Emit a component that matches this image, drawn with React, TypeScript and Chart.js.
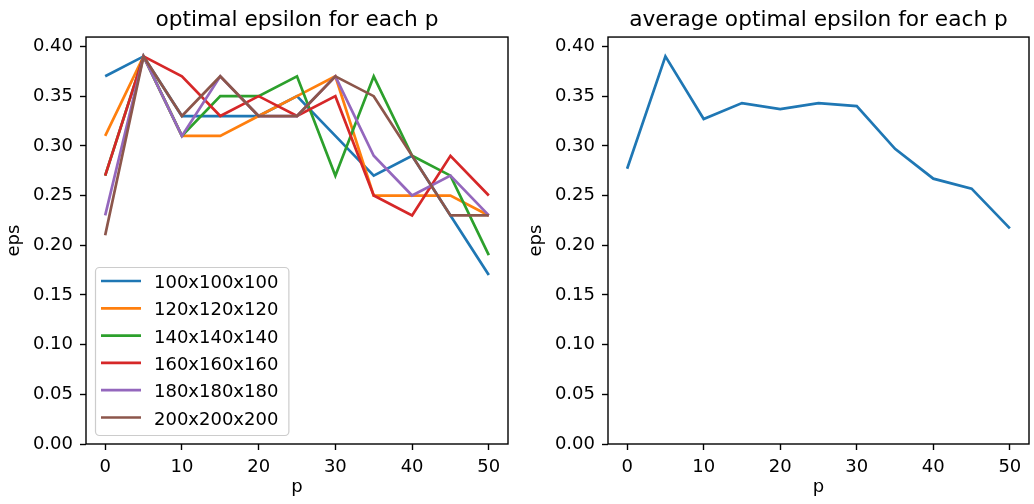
import React, { useEffect, useRef } from "react";
import { Chart, registerables } from "chart.js";

Chart.register(...registerables);

const pValues = [0, 5, 10, 15, 20, 25, 30, 35, 40, 45, 50];
const seriesLabels = ["100x100x100", "120x120x120", "140x140x140", "160x160x160", "180x180x180", "200x200x200"];
const eps100 = [0.37, 0.39, 0.33, 0.33, 0.33, 0.35, 0.31, 0.27, 0.29, 0.23, 0.17];
const eps120 = [0.31, 0.39, 0.31, 0.31, 0.33, 0.35, 0.37, 0.25, 0.25, 0.25, 0.23];
const eps140 = [0.27, 0.39, 0.31, 0.35, 0.35, 0.37, 0.27, 0.37, 0.29, 0.27, 0.19];
const eps160 = [0.27, 0.39, 0.37, 0.33, 0.35, 0.33, 0.35, 0.25, 0.23, 0.29, 0.25];
const eps180 = [0.23, 0.39, 0.31, 0.37, 0.33, 0.33, 0.37, 0.29, 0.25, 0.27, 0.23];
const eps200 = [0.21, 0.39, 0.33, 0.37, 0.33, 0.33, 0.37, 0.35, 0.29, 0.23, 0.23];
const avgEps = [0.277, 0.39, 0.327, 0.343, 0.337, 0.343, 0.34, 0.297, 0.267, 0.257, 0.217];
const yTicks = [0, 0.05, 0.1, 0.15, 0.2, 0.25, 0.3, 0.35, 0.4];
const xTicks = [0, 10, 20, 30, 40, 50];
const colors = ["#1f77b4", "#ff7f0e", "#2ca02c", "#d62728", "#9467bd", "#8c564b"];

const FONT = "'DejaVu Sans', sans-serif";
const allSeries = [eps100, eps120, eps140, eps160, eps180, eps200];

const framePlugin = {
  id: "frame",
  afterDatasetsDraw(chart: any) {
    const { ctx, chartArea: a } = chart;
    ctx.save();
    ctx.strokeStyle = "#000";
    ctx.lineWidth = 1.4;
    ctx.strokeRect(a.left, a.top, a.right - a.left, a.bottom - a.top);
    ctx.restore();
  },
};

const legendPlugin = {
  id: "mplLegend",
  afterDraw(chart: any) {
    const { ctx, chartArea: a } = chart;
    const ds = chart.data.datasets;
    ctx.save();
    ctx.font = `18px ${FONT}`;
    let maxW = 0;
    ds.forEach((d: any) => { maxW = Math.max(maxW, ctx.measureText(d.label).width); });
    const left = a.left + 9;
    const bottom = a.bottom - 9;
    const rowH = 27.3;
    const height = 14 + rowH * (ds.length - 1) + 17.5;
    const top = bottom - height;
    const textX = left + 59;
    const width = textX - left + maxW + 10;
    ctx.beginPath();
    (ctx as any).roundRect(left + 0.5, top + 0.5, width, height, 4);
    ctx.fillStyle = "rgba(255,255,255,0.8)";
    ctx.fill();
    ctx.strokeStyle = "#cccccc";
    ctx.lineWidth = 1.2;
    ctx.stroke();
    ds.forEach((d: any, i: number) => {
      const cy = top + 14 + i * rowH;
      ctx.beginPath();
      ctx.strokeStyle = d.borderColor;
      ctx.lineWidth = 2.7;
      ctx.moveTo(left + 6, cy);
      ctx.lineTo(left + 46, cy);
      ctx.stroke();
      ctx.fillStyle = "#000";
      ctx.textBaseline = "alphabetic";
      ctx.textAlign = "left";
      ctx.fillText(d.label, textX, cy + 7);
    });
    ctx.restore();
  },
};

function makeOptions(title: string, padRight: number) {
  return {
    responsive: false,
    animation: false as const,
    layout: { padding: { left: 0, right: padRight, top: 0, bottom: 0 } },
    plugins: {
      legend: { display: false },
      tooltip: { enabled: false },
      title: {
        display: true,
        text: title,
        color: "#000",
        fullSize: false,
        font: { family: FONT, size: 21.7, weight: "normal" as const, lineHeight: 1.2 },
        padding: { top: 7, bottom: 4 },
      },
    },
    scales: {
      x: {
        type: "linear" as const,
        min: -2.5,
        max: 52.5,
        afterBuildTicks: (s: any) => { s.ticks = xTicks.map((v) => ({ value: v })); },
        afterFit: (s: any) => { s.height = 60; },
        border: { display: false },
        grid: { drawOnChartArea: false, drawTicks: true, tickLength: 6, tickColor: "#000", tickWidth: 1.4 },
        ticks: { color: "#000", padding: 7, font: { family: FONT, size: 18 }, maxRotation: 0, callback: (v: any) => String(v) },
        title: { display: true, text: "p", color: "#000", font: { family: FONT, size: 18, lineHeight: 1.2 }, padding: { top: 0, bottom: 5.5 } },
      },
      y: {
        type: "linear" as const,
        min: 0,
        max: 0.4095,
        afterBuildTicks: (s: any) => { s.ticks = yTicks.map((v) => ({ value: v })); },
        afterFit: (s: any) => { s.width = 86; },
        border: { display: false },
        grid: { drawOnChartArea: false, drawTicks: true, tickLength: 6, tickColor: "#000", tickWidth: 1.4 },
        ticks: { color: "#000", padding: 7, font: { family: FONT, size: 18 }, callback: (v: any) => Number(v).toFixed(2) },
        title: { display: true, text: "eps", color: "#000", font: { family: FONT, size: 18, lineHeight: 1.2 }, padding: { top: 4, bottom: 0 } },
      },
    },
  };
}

export default function App() {
  const leftRef = useRef<HTMLCanvasElement>(null);
  const rightRef = useRef<HTMLCanvasElement>(null);

  useEffect(() => {
    const left = new Chart(leftRef.current!, {
      type: "line",
      data: {
        datasets: allSeries.map((s, i) => ({
          label: seriesLabels[i],
          data: pValues.map((p, j) => ({ x: p, y: s[j] })),
          borderColor: colors[i],
          backgroundColor: colors[i],
          borderWidth: 2.7,
          pointRadius: 0,
          tension: 0,
          fill: false,
          order: allSeries.length - 1 - i,
        })),
      },
      options: makeOptions("optimal epsilon for each p", 9) as any,
      plugins: [framePlugin, legendPlugin],
    });
    const right = new Chart(rightRef.current!, {
      type: "line",
      data: {
        datasets: [
          {
            label: "average",
            data: pValues.map((p, j) => ({ x: p, y: avgEps[j] })),
            borderColor: colors[0],
            backgroundColor: colors[0],
            borderWidth: 2.7,
            pointRadius: 0,
            tension: 0,
            fill: false,
          },
        ],
      },
      options: makeOptions("average optimal epsilon for each p", 5) as any,
      plugins: [framePlugin],
    });
    return () => {
      left.destroy();
      right.destroy();
    };
  }, []);

  return (
    <div style={{ position: "absolute", left: 0, top: 0, width: 1034, height: 504, background: "#fff" }}>
      <canvas ref={leftRef} width={517} height={504} style={{ position: "absolute", left: 0, top: 0 }} />
      <canvas ref={rightRef} width={512} height={504} style={{ position: "absolute", left: 522, top: 0 }} />
    </div>
  );
}
